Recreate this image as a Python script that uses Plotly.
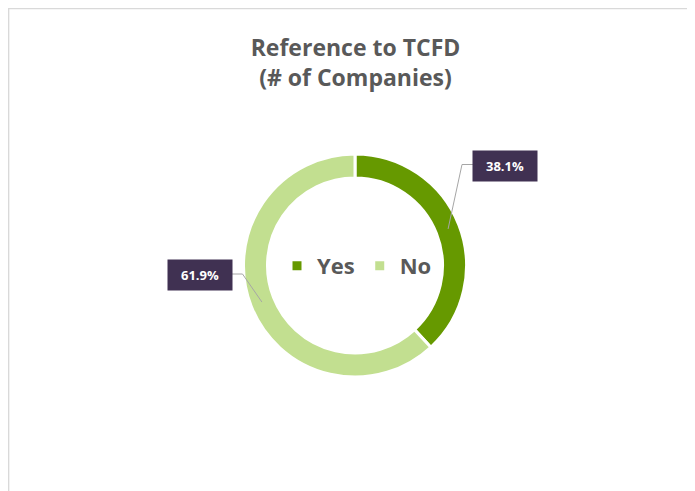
import math
import plotly.graph_objects as go

# Data
categories = ["Yes", "No"]
company_counts = [8, 13]          # 38.1% / 61.9%
colors = ["#669900", "#C2DF90"]
title_lines = ["Reference to TCFD", "(# of Companies)"]

W, H = 695, 491
OFF = 8  # page body margin offset
cx, cy, R_out, R_in = 355 - OFF, 265.5 - OFF, 111.5, 87.5
FONT = "Open Sans, Liberation Sans, sans-serif"


def P(x, y):
    """figure pixel -> paper coords"""
    return x / W, 1 - y / H


fig = go.Figure()
fig.add_trace(go.Pie(
    labels=categories,
    values=company_counts,
    sort=False,
    direction="clockwise",
    rotation=0,
    hole=R_in / R_out,
    marker=dict(colors=colors, line=dict(color="white", width=3)),
    textinfo="none",
    hoverinfo="label+percent",
    domain=dict(x=[(cx - R_out) / W, (cx + R_out) / W],
                y=[1 - (cy + R_out) / H, 1 - (cy - R_out) / H]),
    showlegend=True,
))

# Data labels + elbow leader lines, anchored at slice mid-angles
total = sum(company_counts)
box_centers = [(505 - OFF, 165.5 - OFF), (199.5 - OFF, 275 - OFF)]
box_w, box_h = 64, 30
annotations, shapes = [], []
cum = 0
for v, (bx, by) in zip(company_counts, box_centers):
    frac = v / total
    mid = (cum + frac / 2) * 2 * math.pi
    cum += frac
    rm = 100
    tx = cx + rm * math.sin(mid)
    ty = cy - rm * math.cos(mid)
    side = 1 if bx < tx else -1   # box left of tip -> line leaves right edge
    ex = bx + side * box_w / 2
    elx = ex + side * 11
    ax_, ay_ = P(bx, by)
    annotations.append(dict(
        x=ax_, y=ay_, xref="paper", yref="paper", showarrow=False,
        xanchor="center", yanchor="middle",
        text=f"{frac*100:.1f}%",
        bgcolor="#403152", borderpad=4, width=box_w - 8, height=box_h - 8,
        font=dict(color="white", size=13, family=FONT, weight="bold"),
    ))
    p0, p1, p2 = P(ex, by - 1), P(elx, by - 1), P(tx, ty)
    shapes.append(dict(
        type="path", xref="paper", yref="paper",
        path=f"M {p0[0]} {p0[1]} L {p1[0]} {p1[1]} L {p2[0]} {p2[1]}",
        line=dict(color="#A6A6A6", width=1),
    ))

# chart-area border
shapes.append(dict(type="rect", xref="paper", yref="paper",
                   x0=0.6 / W, x1=1.05, y0=-0.05, y1=1 - 0.6 / H,
                   line=dict(color="#D9D9D9", width=1.5),
                   fillcolor="rgba(0,0,0,0)", layer="below"))

fig.update_layout(
    width=W, height=H,
    margin=dict(l=0, r=0, t=0, b=0),
    paper_bgcolor="white",
    title=dict(
        text="<br>".join(title_lines),
        x=(355.5 - OFF) / W, xanchor="center", y=1 - (56 - OFF) / H, yanchor="middle",
        font=dict(size=23, color="#595959", family=FONT, weight="bold"),
    ),
    legend=dict(
        orientation="h", x=(357 - OFF) / W, xanchor="center",
        y=1 - (266 - OFF) / H, yanchor="middle",
        font=dict(size=22, color="#595959", family=FONT, weight="bold"),
        bgcolor="rgba(0,0,0,0)", itemwidth=30,
    ),
    annotations=annotations,
    shapes=shapes,
)

fig.write_html("out.html")
